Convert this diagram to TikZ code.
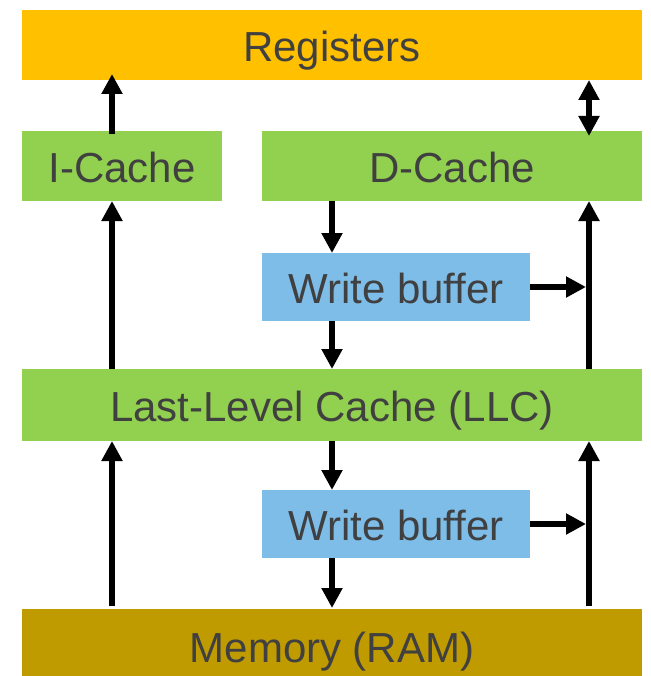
\documentclass[tikz,border=0pt]{standalone}
\usepackage{fontspec}
\setmainfont{Liberation Sans}
\usetikzlibrary{arrows.meta}
\definecolor{regcol}{HTML}{FFC000}
\definecolor{cachecol}{HTML}{92D050}
\definecolor{bufcol}{HTML}{7DBDE8}
\definecolor{memcol}{HTML}{BF9B00}
\definecolor{txtcol}{HTML}{404040}
\tikzset{
  blk/.style={draw=none, inner sep=0pt, outer sep=0pt, anchor=north west,
    text=txtcol, font=\fontsize{42}{48}\selectfont,
    text height=33pt, text depth=0pt},
  arr/.style={line width=6.5pt, -{Triangle[length=20pt,width=20pt]}},
  darr/.style={line width=6.5pt, {Triangle[length=20pt,width=20pt]}-{Triangle[length=20pt,width=20pt]}}
}
\begin{document}
\begin{tikzpicture}[x=1pt,y=-1pt]
\useasboundingbox (0,0) rectangle (650,676);
% storage levels
\node[blk, fill=regcol, minimum width=620pt, minimum height=70pt] (regs) at (22,10) {Registers};
\node[blk, fill=cachecol, minimum width=200pt, minimum height=70pt] (icache) at (22,131) {I-Cache};
\node[blk, fill=cachecol, minimum width=380pt, minimum height=70pt] (dcache) at (262,131) {D-Cache};
\node[blk, fill=bufcol, minimum width=268pt, minimum height=68pt] (wb1) at (262,253) {Write buffer};
\node[blk, fill=cachecol, minimum width=620pt, minimum height=72pt] (llc) at (22,369) {Last-Level Cache (LLC)};
\node[blk, fill=bufcol, minimum width=268pt, minimum height=68pt] (wb2) at (262,490) {Write buffer};
\node[blk, fill=memcol, minimum width=620pt, minimum height=67pt, text height=39.6pt] (mem) at (22,609) {Memory (RAM)};
% connector columns
\coordinate (colA) at (112,0);
\coordinate (colB) at (332,0);
\coordinate (colC) at (589,0);
% instruction path
\draw[arr, shorten <=-3pt, shorten >=-6pt] (colA |- icache.north) -- (colA |- regs.south);
\draw[arr] (colA |- llc.north) -- (colA |- icache.south);
\draw[arr, shorten <=3pt] (colA |- mem.north) -- (colA |- llc.south);
% data path
\draw[darr, shorten <=-5pt] (colC |- dcache.north) -- (colC |- regs.south);
\draw[arr] (colB |- dcache.south) -- (colB |- wb1.north);
\draw[arr] (colB |- wb1.south) -- (colB |- llc.north);
\draw[arr, shorten >=3pt] (wb1.east) -- (colC |- wb1.east);
\draw[arr] (colC |- llc.north) -- (colC |- dcache.south);
\draw[arr] (colB |- llc.south) -- (colB |- wb2.north);
\draw[arr, shorten >=1pt] (colB |- wb2.south) -- (colB |- mem.north);
\draw[arr, shorten >=3pt] (wb2.east) -- (colC |- wb2.east);
\draw[arr, shorten <=3pt] (colC |- mem.north) -- (colC |- llc.south);
\end{tikzpicture}
\end{document}
